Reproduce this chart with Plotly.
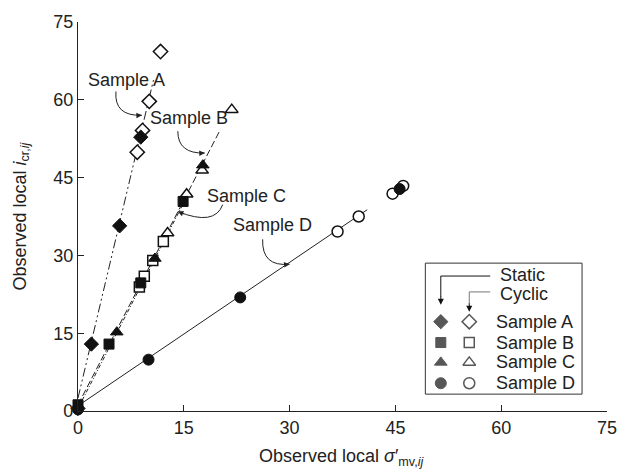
import plotly.graph_objects as go

# ---------------- data ----------------
samples = ["Sample A", "Sample B", "Sample C", "Sample D"]
symbols = ["diamond", "square", "triangle-up", "circle"]

a_static_x = [0.0, 1.9, 5.9, 8.9]
a_static_y = [0.5, 12.9, 35.7, 52.8]
a_cyclic_x = [8.4, 9.15, 10.1, 11.7]
a_cyclic_y = [49.9, 54.1, 59.7, 69.3]

b_static_x = [0.0, 4.4, 8.9, 14.9]
b_static_y = [1.2, 12.9, 24.7, 40.4]
b_cyclic_x = [8.7, 9.4, 10.6, 12.1]
b_cyclic_y = [23.9, 26.0, 29.0, 32.7]

c_static_x = [5.5, 10.9, 17.7]
c_static_y = [15.2, 29.4, 47.4]
c_cyclic_x = [12.7, 15.4, 17.6, 21.8]
c_cyclic_y = [34.3, 41.8, 46.4, 58.1]

d_static_x = [0.0, 10.0, 23.0, 45.6]
d_static_y = [0.3, 9.9, 21.9, 42.8]
d_cyclic_x = [36.8, 39.8, 44.6, 46.1]
d_cyclic_y = [34.6, 37.5, 41.9, 43.4]

# fitted trend lines (end points)
line_a_x = [0.0, 10.7]
line_a_y = [2.5, 63.8]
line_b_x = [0.0, 20.2]
line_b_y = [1.2, 54.3]
line_c_x = [0.0, 15.5]
line_c_y = [0.5, 41.5]
line_d_x = [0.0, 41.0]
line_d_y = [1.0, 38.8]

x_ticks = [0, 15, 30, 45, 60, 75]
y_ticks = [0, 15, 30, 45, 60, 75]

# ---------------- layout helpers ----------------
W, H = 629, 474
L, R, T, B = 78, 21, 19, 63
XMAX = YMAX = 75
FONT = "Liberation Sans, Arial, sans-serif"
FS = 18


def px2x(px):
    return (px - L) / (W - L - R) * XMAX


def py2y(py):
    return (H - B - py) / (H - T - B) * YMAX


fig = go.Figure()

# trend lines
for lx, ly, dash in [
    (line_a_x, line_a_y, "9px,3px,2px,3px,2px,3px"),
    (line_b_x, line_b_y, "7px,3px"),
    (line_c_x, line_c_y, "4px,2px,1px,2px"),
    (line_d_x, line_d_y, "solid"),
]:
    fig.add_trace(go.Scatter(x=lx, y=ly, mode="lines",
                             line=dict(color="#222", width=1, dash=dash),
                             hoverinfo="skip", showlegend=False))

sizes = {"diamond": 11, "square": 10, "triangle-up": 11, "circle": 11}
cyc = [(a_cyclic_x, a_cyclic_y), (b_cyclic_x, b_cyclic_y),
       (c_cyclic_x, c_cyclic_y), (d_cyclic_x, d_cyclic_y)]
sta = [(a_static_x, a_static_y), (b_static_x, b_static_y),
       (c_static_x, c_static_y), (d_static_x, d_static_y)]

for (xs, ys), sym in zip(cyc, symbols):
    fig.add_trace(go.Scatter(x=xs, y=ys, mode="markers", cliponaxis=False,
                             marker=dict(symbol=sym, size=sizes[sym], color="white",
                                         line=dict(color="#111", width=1.5)),
                             showlegend=False))
for (xs, ys), sym in zip(sta, symbols):
    fig.add_trace(go.Scatter(x=xs, y=ys, mode="markers", cliponaxis=False,
                             marker=dict(symbol=sym, size=sizes[sym], color="#111",
                                         line=dict(color="#111", width=1)),
                             showlegend=False))

# ---------------- legend box (drawn by hand) ----------------
leg_rows_py = [321, 342, 362, 383]
fig.add_trace(go.Scatter(x=[px2x(441.5)] * 4, y=[py2y(p) for p in leg_rows_py],
                         mode="markers", cliponaxis=False,
                         marker=dict(symbol=symbols, size=[sizes[s] for s in symbols],
                                     color="#111", line=dict(color="#111", width=1)),
                         showlegend=False, hoverinfo="skip"))
fig.add_trace(go.Scatter(x=[px2x(470)] * 4, y=[py2y(p) for p in leg_rows_py],
                         mode="markers", cliponaxis=False,
                         marker=dict(symbol=symbols, size=[sizes[s] for s in symbols],
                                     color="white", line=dict(color="#111", width=1.5)),
                         showlegend=False, hoverinfo="skip"))

shapes = [
    dict(type="rect", xref="x", yref="y", x0=px2x(426), x1=px2x(583),
         y0=py2y(394), y1=py2y(262), line=dict(color="#333", width=1)),
    dict(type="path", xref="x", yref="y",
         path=f"M {px2x(491)},{py2y(275)} L {px2x(441.5)},{py2y(275)} L {px2x(441.5)},{py2y(296)}",
         line=dict(color="#111", width=1)),
    dict(type="path", xref="x", yref="y",
         path=f"M {px2x(491)},{py2y(291)} L {px2x(470)},{py2y(291)} L {px2x(470)},{py2y(303)}",
         line=dict(color="#777", width=1)),
]

annotations = []
for name, p in zip(samples, leg_rows_py):
    annotations.append(dict(x=px2x(495), y=py2y(p), xref="x", yref="y", text=name,
                            showarrow=False, xanchor="left", yanchor="middle",
                            font=dict(family=FONT, size=FS, color="#222")))
annotations.append(dict(x=px2x(499), y=py2y(274), xref="x", yref="y", text="Static",
                        showarrow=False, xanchor="left", yanchor="middle",
                        font=dict(family=FONT, size=FS, color="#222")))
annotations.append(dict(x=px2x(499), y=py2y(293), xref="x", yref="y", text="Cyclic",
                        showarrow=False, xanchor="left", yanchor="middle",
                        font=dict(family=FONT, size=FS, color="#222")))
# arrow heads in legend
for xpx, y0, y1, col in [(441.5, 294, 304, "#111"), (470, 301, 311, "#111")]:
    annotations.append(dict(x=px2x(xpx), y=py2y(y1), ax=px2x(xpx), ay=py2y(y0),
                            xref="x", yref="y", axref="x", ayref="y", text="",
                            showarrow=True, arrowhead=2, arrowsize=1.2, arrowwidth=1,
                            arrowcolor=col))

# ---------------- in-plot labels with curved arrows ----------------
labels = [
    # text, text centre px, curve start px, control px, tip px
    ("Sample A", (127, 77), (116, 89), (114, 114), (142, 113)),
    ("Sample B", (189, 116), (178, 129), (178, 152), (205, 151)),
    ("Sample C", (247, 194), (223, 203), (215, 225), (178, 210)),
    ("Sample D", (273, 224), (263, 238), (262, 266), (290, 263)),
]
for text, (tx, ty), s, c, e in labels:
    annotations.append(dict(x=px2x(tx), y=py2y(ty), xref="x", yref="y", text=text,
                            showarrow=False, font=dict(family=FONT, size=FS, color="#222")))
    shapes.append(dict(type="path", xref="x", yref="y",
                       path=f"M {px2x(s[0])},{py2y(s[1])} Q {px2x(c[0])},{py2y(c[1])} {px2x(e[0])},{py2y(e[1])}",
                       line=dict(color="#222", width=1)))
    tail = (e[0] - 0.2 * (e[0] - c[0]), e[1] - 0.2 * (e[1] - c[1]))
    annotations.append(dict(x=px2x(e[0]), y=py2y(e[1]), ax=px2x(tail[0]), ay=py2y(tail[1]),
                            xref="x", yref="y", axref="x", ayref="y", text="",
                            showarrow=True, arrowhead=2, arrowsize=1.1, arrowwidth=1,
                            arrowcolor="#222"))

# axis titles
annotations.append(dict(xref="paper", yref="paper", x=(257 - L) / (W - L - R),
                        y=-(458 - (H - B)) / (H - T - B),
                        text="Observed local <i>σ</i>′<sub>mv,<i>ij</i></sub>",
                        showarrow=False, xanchor="left", yanchor="middle",
                        font=dict(family=FONT, size=FS, color="#222")))
annotations.append(dict(xref="paper", yref="paper", x=(21 - L) / (W - L - R), y=0.5,
                        text="Observed local <i>i</i><sub>cr,<i>ij</i></sub>",
                        textangle=-90, showarrow=False, xanchor="center", yanchor="middle",
                        font=dict(family=FONT, size=FS, color="#222")))

axis_common = dict(range=[0, 75], showgrid=False, zeroline=False, showline=True,
                   linecolor="#222", linewidth=1.3, ticks="inside", ticklen=6,
                   tickwidth=1.3, tickcolor="#222", mirror=False,
                   tickfont=dict(family=FONT, size=FS, color="#222"))

fig.update_layout(
    width=W, height=H,
    margin=dict(l=L, r=R, t=T, b=B),
    paper_bgcolor="white", plot_bgcolor="white",
    xaxis=dict(**axis_common, tickvals=x_ticks),
    yaxis=dict(**axis_common, tickvals=y_ticks),
    shapes=shapes, annotations=annotations,
    showlegend=False,
)

fig.write_html("out.html")
